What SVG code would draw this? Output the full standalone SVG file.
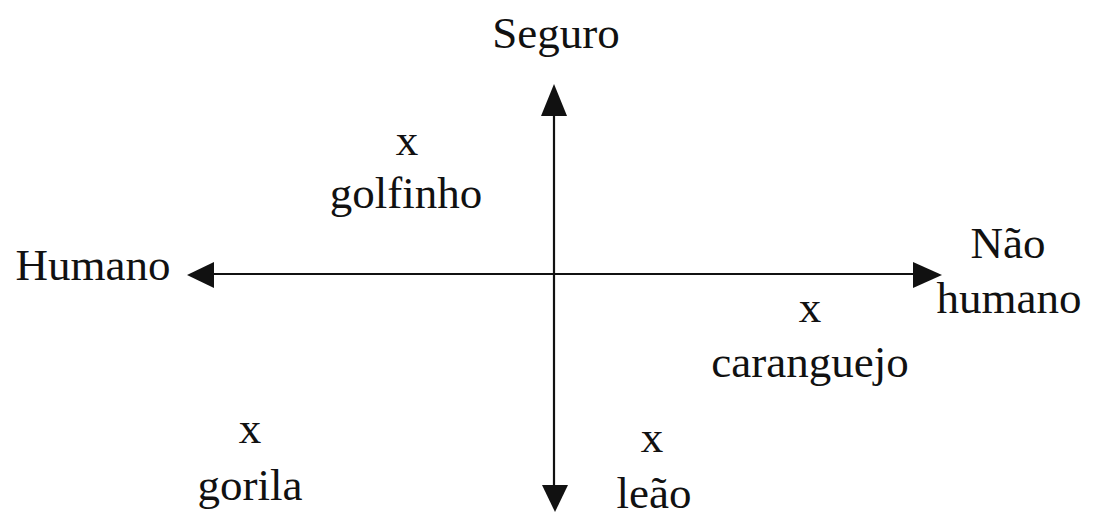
<svg xmlns="http://www.w3.org/2000/svg" width="1118" height="530" viewBox="0 0 1118 530">
<style>
text{font-family:"Liberation Serif","Times New Roman",serif;font-size:45px;fill:#111;text-anchor:middle}
.ax{stroke:#111;stroke-width:2.2;fill:none}
.ah{fill:#111}
</style>
<rect width="1118" height="530" fill="#fff"/>
<g id="connectors">
<line class="ax" x1="554" y1="110" x2="554" y2="488"/>
<line class="ax" x1="208" y1="274" x2="918" y2="274"/>
<polygon class="ah" points="554,84 541,116 567,116"/>
<polygon class="ah" points="555,512 542,485 568,485"/>
<polygon class="ah" points="187,275 214,262 214,288"/>
<polygon class="ah" points="942,275 913,262 913,288"/>
</g>
<g id="seguro"><text x="556" y="48">Seguro</text></g>
<g id="humano"><text x="93" y="280">Humano</text></g>
<g id="nao-humano"><text x="1008" y="258">Não</text><text x="1009" y="313">humano</text></g>
<g id="golfinho"><text x="407" y="155">x</text><text x="406" y="208">golfinho</text></g>
<g id="caranguejo"><text x="810" y="322">x</text><text x="810" y="377">caranguejo</text></g>
<g id="gorila"><text x="250" y="443">x</text><text x="250" y="500">gorila</text></g>
<g id="leao"><text x="652" y="452">x</text><text x="654" y="508">leão</text></g>
</svg>
